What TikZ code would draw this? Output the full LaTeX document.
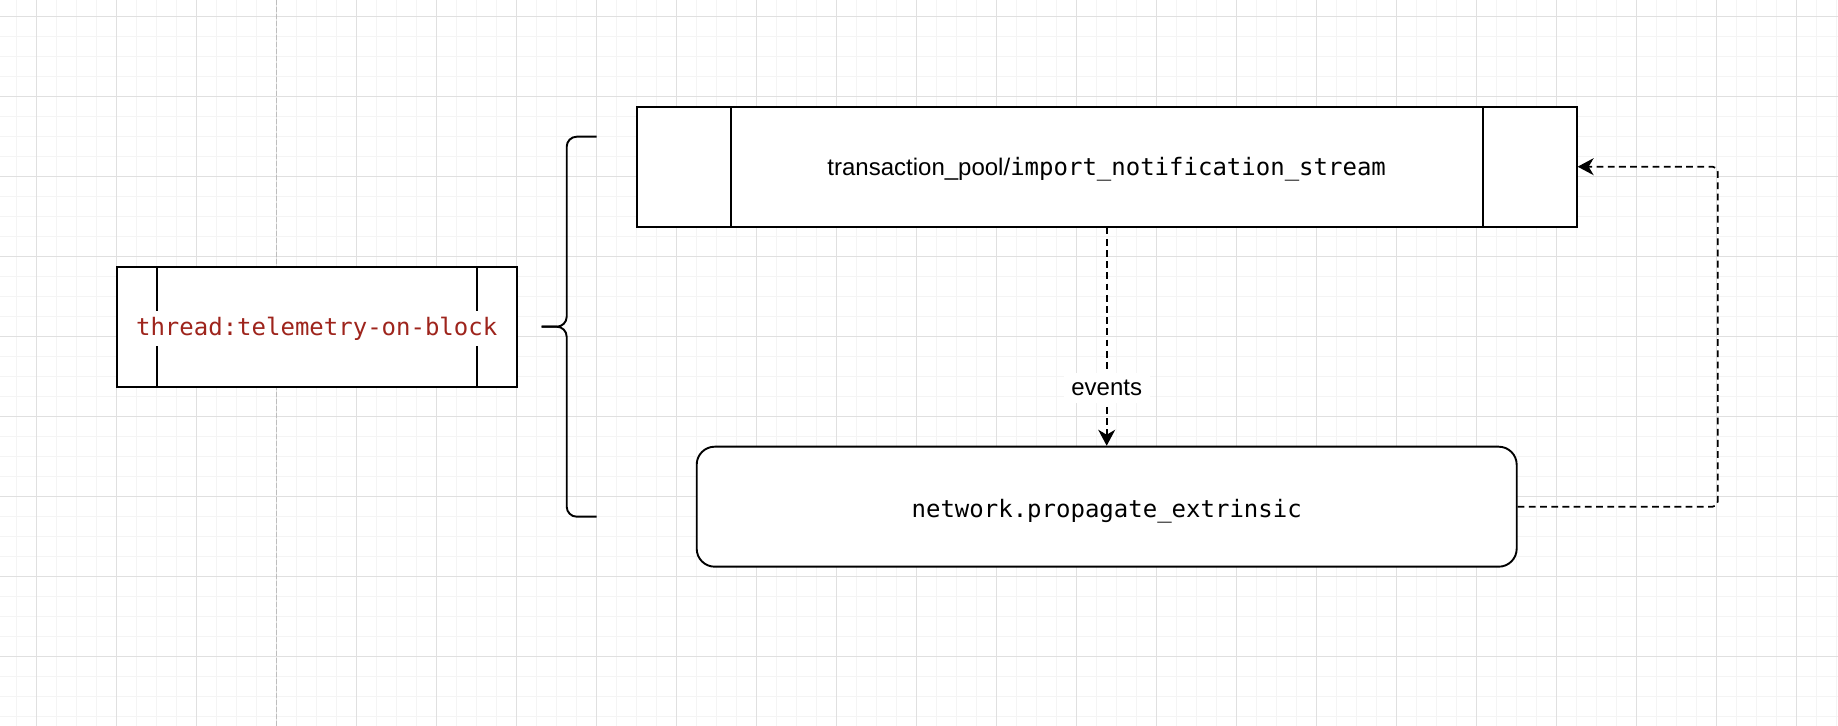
\documentclass[tikz,border=0pt]{standalone}
\usepackage{fontspec}
\setmainfont{Liberation Sans}
\setmonofont{DejaVu Sans Mono}
\usepackage{tikz}
\usetikzlibrary{arrows.meta,positioning,calc}
\definecolor{gridminor}{HTML}{F4F4F4}
\definecolor{gridmajor}{HTML}{E0E0E0}
\definecolor{guide}{HTML}{BDBDBD}
\definecolor{threadred}{HTML}{9E241C}

\begin{document}
\begin{tikzpicture}[x=0.5pt,y=-0.5pt,>={Stealth[length=8pt,width=8.5pt,inset=2.5pt]},
  every node/.style={font=\fontsize{12pt}{14pt}\selectfont,text height=8.4pt,text depth=0pt},
  procbox/.style={draw,line width=0.95pt,fill=white,minimum height=60pt,inner sep=0pt,
    path picture={\draw[line width=0.8pt] ([xshift=#1]path picture bounding box.north west)--([xshift=#1]path picture bounding box.south west);
      \draw[line width=0.8pt] ([xshift=-#1]path picture bounding box.north east)--([xshift=-#1]path picture bounding box.south east);}},
  roundbox/.style={draw,line width=0.95pt,fill=white,rounded corners=9pt,minimum height=60pt,inner sep=0pt},
  flow/.style={->,dash pattern=on 3.4pt off 2.2pt,line width=0.85pt}]
\useasboundingbox[fill=white] (0,0) rectangle (1838,726);
\foreach \k in {0,...,91} \draw[gridminor,line width=0.5pt] ({16.7+20*\k},0)--({16.7+20*\k},726);
\foreach \k in {0,...,35} \draw[gridminor,line width=0.5pt] (0,{16.7+20*\k})--(1838,{16.7+20*\k});
\foreach \k in {0,...,22} \draw[gridmajor,line width=0.5pt] ({36.7+80*\k},0)--({36.7+80*\k},726);
\foreach \k in {0,...,8} \draw[gridmajor,line width=0.5pt] (0,{16.7+80*\k})--(1838,{16.7+80*\k});
\draw[guide,line width=0.75pt,dash pattern=on 2.5pt off 1pt] (276.7,0)--(276.7,726);
\node[procbox=20pt,minimum width=200pt] (thr) at (316.7,326.7) {\colorbox{white}{\color{threadred}\ttfamily thread:telemetry-on-block}};
\node[procbox=47pt,minimum width=470pt] (pool) at (1106.7,166.7) {transaction\_pool/\texttt{import\_notification\_stream}};
\node[roundbox,minimum width=410pt,text height=10.8pt] (net) at (1106.7,506.7) {\texttt{network.propagate\_extrinsic}};
\coordinate (brtop) at (596.7,136.7);
\coordinate (brbot) at (596.7,516.7);
\coordinate (brtip) at (541.7,326.7);
\draw[line width=0.95pt,rounded corners=5pt] (brtop)--(566.7,136.7)--(566.7,326.7)--(brtip);
\draw[line width=0.95pt,rounded corners=5pt] (brbot)--(566.7,516.7)--(566.7,326.7)--(brtip);
\draw[flow] (pool)--(net) node[pos=0.737,fill=white,inner sep=3.8pt,text height=7.4pt] (ev) {events};
\draw[flow,rounded corners=2.5pt] (net.east)--++(200,0)|-(pool.east);
\end{tikzpicture}
\end{document}
